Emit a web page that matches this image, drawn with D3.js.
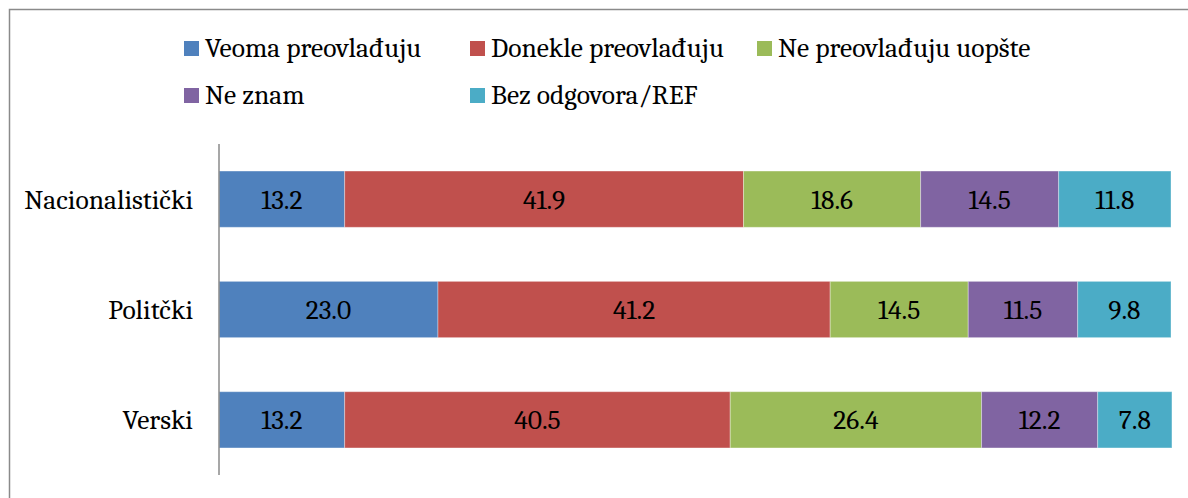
<!DOCTYPE html>
<html>
<head>
<meta charset="utf-8">
<script src="https://cdn.jsdelivr.net/npm/d3@7"></script>
<style>
  html, body { margin: 0; padding: 0; background: #fff; }
  svg { display: block; }
</style>
</head>
<body>
<svg id="chart" width="1188" height="498"></svg>
<script>
// Categories (top to bottom) and answer series
const categories = ["Nacionalistički", "Politčki", "Verski"];
const seriesNames = ["Veoma preovlađuju", "Donekle preovlađuju", "Ne preovlađuju uopšte", "Ne znam", "Bez odgovora/REF"];
const veoma    = [13.2, 23.0, 13.2];
const donekle  = [41.9, 41.2, 40.5];
const neUopste = [18.6, 14.5, 26.4];
const neZnam   = [14.5, 11.5, 12.2];
const bezOdg   = [11.8, 9.8, 7.8];
const seriesValues = [veoma, donekle, neUopste, neZnam, bezOdg];
const colors = ["#4F81BD", "#C0504D", "#9BBB59", "#8064A2", "#4BACC6"];

const FONT = "Caladea, Cambria, 'Liberation Serif', serif";
const FS = 27.5;

const svg = d3.select("#chart");

// outer frame
svg.append("rect")
  .attr("x", 9.5).attr("y", 9.5)
  .attr("width", 1200).attr("height", 520)
  .attr("fill", "none").attr("stroke", "#8a8a8a").attr("stroke-width", 1.5);

const plot = { left: 219, right: 1171, top: 144, bottom: 475 };

const x = d3.scaleLinear().domain([0, 100]).range([plot.left, plot.right]);
const y = d3.scaleBand().domain(categories).range([plot.top, plot.bottom]).paddingInner(0.49).paddingOuter(0.245);

// stacked rows
const rows = categories.map((c, i) => {
  const r = { cat: c };
  seriesNames.forEach((s, k) => r[s] = seriesValues[k][i]);
  return r;
});
const stacked = d3.stack().keys(seriesNames)(rows);

const g = svg.append("g");
stacked.forEach((layer, k) => {
  const lg = g.append("g");
  lg.selectAll("rect").data(layer).join("rect")
    .attr("x", d => x(d[0]))
    .attr("y", d => y(d.data.cat))
    .attr("width", d => x(d[1]) - x(d[0]))
    .attr("height", y.bandwidth())
    .attr("fill", colors[k])
    .attr("stroke", "rgba(255,255,255,0.35)")
    .attr("stroke-width", 1);
  lg.selectAll("text").data(layer).join("text")
    .attr("x", d => (x(d[0]) + x(d[1])) / 2)
    .attr("y", d => y(d.data.cat) + y.bandwidth() / 2)
    .attr("dy", "0.35em")
    .attr("text-anchor", "middle")
    .attr("font-family", FONT)
    .attr("font-size", FS)
    .attr("fill", "#000")
    .text(d => (d[1] - d[0]).toFixed(1));
});

// category axis
const yAxis = d3.axisLeft(y).tickSize(0).tickPadding(26);
const ag = svg.append("g").attr("transform", `translate(${plot.left},0)`).call(yAxis)
  .attr("font-family", FONT).attr("font-size", FS);
ag.select(".domain").attr("stroke", "#8a8a8a").attr("stroke-width", 1.5)
  .attr("d", `M0,${plot.top}V${plot.bottom}`);
ag.selectAll("text").attr("fill", "#000").attr("dy", "0.35em");

// legend
const legendPos = [
  { x: 184, y: 48.5 }, { x: 470, y: 48.5 }, { x: 757, y: 48.5 },
  { x: 184, y: 95.5 }, { x: 470, y: 95.5 }
];
const leg = svg.append("g");
seriesNames.forEach((s, k) => {
  const p = legendPos[k];
  leg.append("rect").attr("x", p.x).attr("y", p.y - 7.5).attr("width", 15).attr("height", 15).attr("fill", colors[k]);
  leg.append("text").attr("x", p.x + 21).attr("y", p.y - 1).attr("dy", "0.35em")
    .attr("font-family", FONT).attr("font-size", FS).attr("fill", "#000").text(s);
});
</script>
</body>
</html>
